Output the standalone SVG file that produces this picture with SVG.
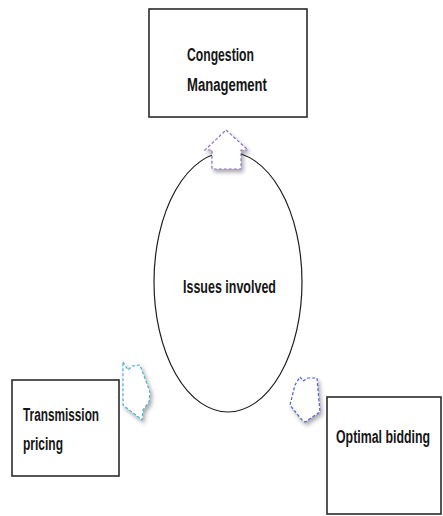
<svg xmlns="http://www.w3.org/2000/svg" width="443" height="516" viewBox="0 0 443 516">
<defs>
<style>
.box{fill:#ffffff;stroke:#2b2b2b;stroke-width:1.6}
.lbl{font-family:"Liberation Sans",Arial,sans-serif;font-size:19px;font-weight:bold;fill:#151515}
.arr{fill:#ffffff;stroke-width:1.2;stroke-dasharray:3 2}
</style>
<filter id="sh" x="-30%" y="-30%" width="160%" height="160%">
<feGaussianBlur in="SourceAlpha" stdDeviation="2"/>
<feOffset dx="2" dy="3" result="b"/>
<feComponentTransfer><feFuncA type="linear" slope="0.35"/></feComponentTransfer>
<feMerge><feMergeNode/><feMergeNode in="SourceGraphic"/></feMerge>
</filter>
</defs>
<rect width="443" height="516" fill="#ffffff"/>
<g id="congestion">
<rect class="box" x="149" y="9" width="158" height="108"/>
<text class="lbl" transform="translate(187,61) scale(0.65,1)" x="0" y="0" textLength="103" lengthAdjust="spacingAndGlyphs">Congestion</text>
<text class="lbl" transform="translate(187,91) scale(0.65,1)" x="0" y="0" textLength="123" lengthAdjust="spacingAndGlyphs">Management</text>
</g>
<g id="issues">
<ellipse cx="228" cy="282" rx="74" ry="130" fill="#ffffff" stroke="#1e1e1e" stroke-width="1.2"/>
<text class="lbl" transform="translate(183,293) scale(0.65,1)" x="0" y="0" textLength="143" lengthAdjust="spacingAndGlyphs">Issues involved</text>
</g>
<g id="transmission">
<rect class="box" x="12" y="380" width="107" height="96"/>
<text class="lbl" transform="translate(23,421) scale(0.65,1)" x="0" y="0" textLength="117" lengthAdjust="spacingAndGlyphs">Transmission</text>
<text class="lbl" transform="translate(23,450) scale(0.65,1)" x="0" y="0" textLength="61.5" lengthAdjust="spacingAndGlyphs">pricing</text>
</g>
<g id="bidding">
<rect class="box" x="327" y="397" width="114" height="117"/>
<text class="lbl" transform="translate(336,443) scale(0.65,1)" x="0" y="0" textLength="144.6" lengthAdjust="spacingAndGlyphs">Optimal bidding</text>
</g>
<g id="connectors">
<polygon class="arr" filter="url(#sh)" stroke="#8a6fc4" points="226,130 248,150 241,150 241,169 212,169 212,150 205,150"/>
<polygon class="arr" filter="url(#sh)" stroke="#48aed0" points="123,362 128,370 132,366 140,365 150,392 149,402 143,410 142,420 123,405"/>
<polygon class="arr" filter="url(#sh)" stroke="#4f5fd0" points="300,377 303,381 308,378 317,378 318,390 320,412 305,422 302,420 290,405 295,385"/>
</g>
</svg>
